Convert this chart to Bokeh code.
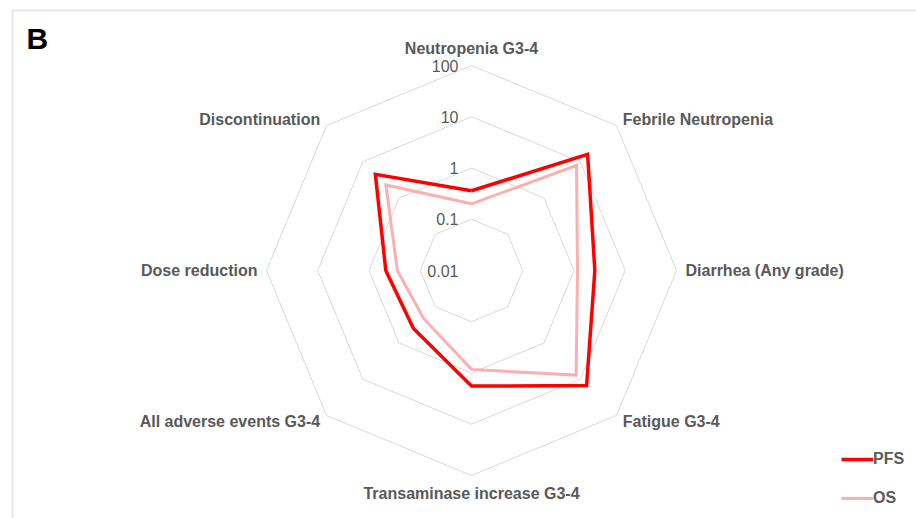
import numpy as np
from bokeh.plotting import figure
from bokeh.models import Range1d, Legend, LegendItem, Label, ColumnDataSource
from bokeh.core.properties import value
from bokeh.embed import file_html
from bokeh.resources import INLINE

# ---- data ----
categories = ["Neutropenia G3-4", "Febrile Neutropenia", "Diarrhea (Any grade)",
              "Fatigue G3-4", "Transaminase increase G3-4", "All adverse events G3-4",
              "Dose reduction", "Discontinuation"]
pfs = [0.36, 16.0, 2.55, 15.0, 1.8, 0.4, 0.47, 4.5]
os_ = [0.20, 7.9, 1.17, 7.7, 0.85, 0.21, 0.28, 2.3]
ring_values = [0.1, 1, 10, 100]
tick_labels = ["0.01", "0.1", "1", "10", "100"]
tick_values = [0.01, 0.1, 1, 10, 100]

# ---- layout / style ----
W, H = 916, 518
CX, CY = 471, 270          # centre in figure pixels
DEC = 51.25                # pixels per decade
RMIN = 0.01
FONT = "Liberation Sans"
GRAY = "#595959"
GRID = "#D9D9D9"
RED = "#FF0000"
PINK = "#F9B0B0"

n = len(categories)
angles = np.pi / 2 - np.arange(n) * 2 * np.pi / n


def rad(v):
    return (np.log10(np.asarray(v, dtype=float)) - np.log10(RMIN)) * DEC


p = figure(width=W, height=H, output_backend="svg", toolbar_location=None,
           x_range=Range1d(-CX, W - CX), y_range=Range1d(-(H - CY), CY),
           min_border=0, outline_line_color=None)
p.axis.visible = False
p.grid.visible = False
p.background_fill_color = "white"

# frame (left and top edges)
p.line([-CX + 12, -CX + 12, W - CX + 10], [-(H - CY) - 10, CY - 10, CY - 10],
       line_color="#E6E6E6", line_width=2)

# rings
xs, ys = [], []
for rv in ring_values:
    r = rad(rv)
    xs.append(list(r * np.cos(angles)) + [r * np.cos(angles[0])])
    ys.append(list(r * np.sin(angles)) + [r * np.sin(angles[0])])
p.multi_line(xs, ys, line_color=GRID, line_width=1)

# tick labels
p.text(x=[-13] * len(tick_values), y=list(rad(tick_values)), text=tick_labels,
       text_font=value(FONT), text_font_size="16px", text_color=GRAY,
       text_align="right", text_baseline="middle")

# category labels
LR = 214
lx, ly, la, lb = [], [], [], []
for a in angles:
    c, s = np.cos(a), np.sin(a)
    lx.append(LR * c)
    ly.append(LR * s)
    if c > 0.1:
        la.append("left")
    elif c < -0.1:
        la.append("right")
    else:
        la.append("center")
    if abs(c) < 0.1:
        lb.append("bottom" if s > 0 else "top")
    else:
        lb.append("middle")
src = ColumnDataSource(dict(x=lx, y=ly, t=categories, a=la, b=lb))
p.text(x="x", y="y", text="t", text_align="a", text_baseline="b", source=src,
       text_font=value(FONT), text_font_size="16px", text_font_style="bold",
       text_color=GRAY)

# series
def closed(vals):
    r = rad(vals)
    x = list(r * np.cos(angles)) + [r[0] * np.cos(angles[0])]
    y = list(r * np.sin(angles)) + [r[0] * np.sin(angles[0])]
    return x, y

ox, oy = closed(os_)
r_os = p.line(ox, oy, line_color=PINK, line_width=3, line_join="miter")
px, py = closed(pfs)
r_pfs = p.line(px, py, line_color=RED, line_width=3.5, line_join="miter")

legend = Legend(items=[LegendItem(label="PFS", renderers=[r_pfs]),
                       LegendItem(label="OS", renderers=[r_os])],
                location=(841, 10), orientation="vertical",
                glyph_width=32, glyph_height=20, label_height=20,
                spacing=19, padding=0, margin=0, label_standoff=0,
                label_text_font=FONT, label_text_font_size="16px",
                label_text_font_style="bold", label_text_color=GRAY,
                border_line_color=None, background_fill_alpha=0)
p.add_layout(legend)

p.add_layout(Label(x=-445, y=249, text="B", text_font=FONT, text_font_size="30px",
                   text_font_style="bold", text_color="black",
                   text_baseline="top", text_align="left"))

open("out.html", "w").write(file_html(p, INLINE))
